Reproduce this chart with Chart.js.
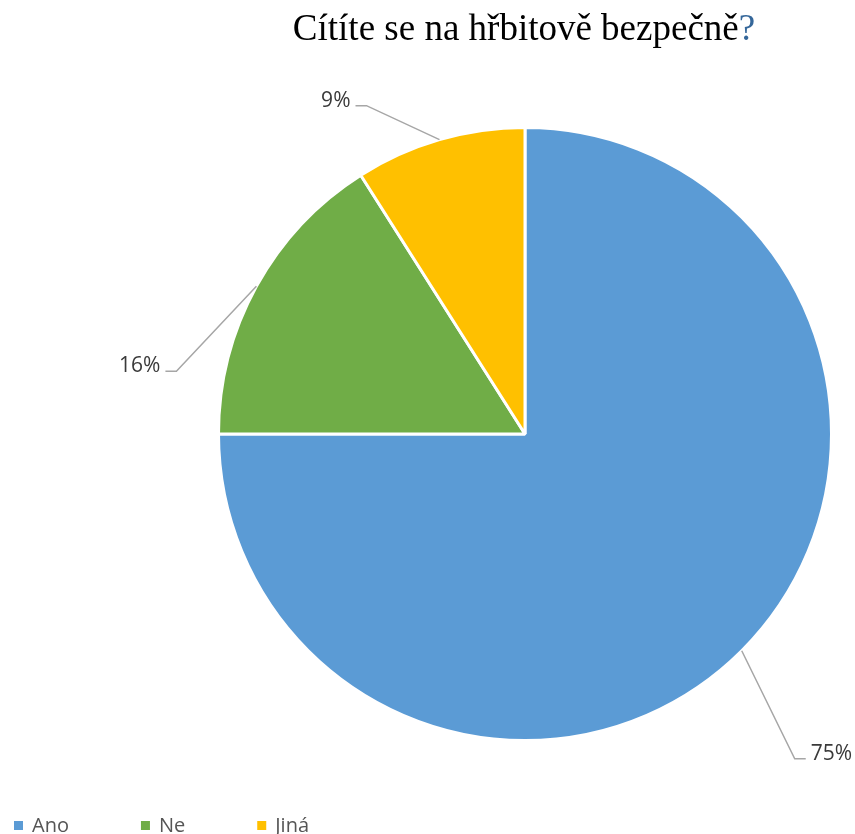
<!DOCTYPE html>
<html>
<head>
<meta charset="utf-8">
<script src="https://cdn.jsdelivr.net/npm/chart.js@4.4.1/dist/chart.umd.min.js"></script>
<style>
  body { margin: 0; background: #fff; }
  canvas { display: block; }
</style>
</head>
<body>
<canvas id="pieChart" width="855" height="834"></canvas>
<script>
const categories = ['Ano', 'Ne', 'Jiná'];
const shares = [75, 16, 9];
const sliceColors = ['#5B9BD5', '#70AD47', '#FFC000'];
const titleText = 'Cítíte se na hřbitově bezpečně';

// where each leader line bends, measured from the slice's rim mid-point
const leaderBends = [[53, 108], [-80, 85], [-73, -34]];

const overlayPlugin = {
    id: 'overlay',
    afterDraw(chart) {
        const ctx = chart.ctx;
        ctx.save();

        // title, the question mark is blue
        ctx.font = '37px "Liberation Serif", "Times New Roman", serif';
        ctx.textBaseline = 'alphabetic';
        const mainW = ctx.measureText(titleText).width;
        const qW = ctx.measureText('?').width;
        let tx = 524 - (mainW + qW) / 2;
        ctx.fillStyle = '#000';
        ctx.textAlign = 'left';
        ctx.fillText(titleText, tx, 40);
        ctx.fillStyle = '#35679A';
        ctx.fillText('?', tx + mainW, 40);

        // data labels with leader lines
        const meta = chart.getDatasetMeta(0);
        ctx.font = '21px "Open Sans", sans-serif';
        meta.data.forEach((arc, i) => {
            const p = arc.getProps(['x', 'y', 'startAngle', 'endAngle', 'outerRadius'], true);
            const mid = (p.startAngle + p.endAngle) / 2;
            const ax = p.x + Math.cos(mid) * p.outerRadius;
            const ay = p.y + Math.sin(mid) * p.outerRadius;
            const bx = ax + leaderBends[i][0];
            const by = ay + leaderBends[i][1];
            const dir = leaderBends[i][0] > 0 ? 1 : -1;
            const ex = bx + dir * 11;

            ctx.strokeStyle = '#A6A6A6';
            ctx.lineWidth = 1.5;
            ctx.beginPath();
            ctx.moveTo(ax, ay);
            ctx.lineTo(bx, by);
            ctx.lineTo(ex, by);
            ctx.stroke();

            ctx.fillStyle = '#3A3A3A';
            ctx.textAlign = dir > 0 ? 'left' : 'right';
            ctx.fillText(shares[i] + '%', ex + dir * 5, by + 1);
        });

        // legend along the bottom
        ctx.font = '20px "Open Sans", sans-serif';
        ctx.textAlign = 'left';
        let lx = 14;
        categories.forEach((name, i) => {
            ctx.fillStyle = sliceColors[i];
            ctx.fillRect(lx, 821, 9, 9);
            ctx.fillStyle = '#555';
            ctx.fillText(name, lx + 18, 832);
            lx += 18 + ctx.measureText(name).width + 72;
        });

        ctx.restore();
    }
};

new Chart(document.getElementById('pieChart'), {
    type: 'pie',
    data: {
        labels: categories,
        datasets: [{
            data: shares,
            backgroundColor: sliceColors,
            borderColor: '#fff',
            borderWidth: 3
        }]
    },
    options: {
        responsive: false,
        animation: false,
        layout: { padding: { left: 217, right: 22, top: 126, bottom: 92 } },
        plugins: {
            legend: { display: false },
            tooltip: { enabled: false }
        }
    },
    plugins: [overlayPlugin]
});
</script>
</body>
</html>
